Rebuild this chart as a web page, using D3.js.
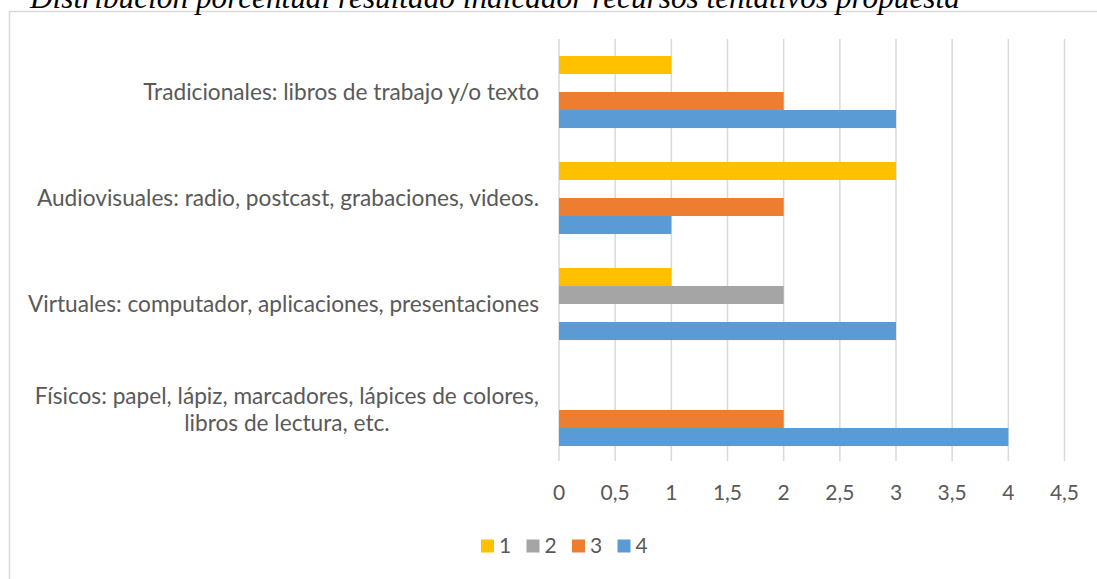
<!DOCTYPE html>
<html>
<head>
<meta charset="utf-8">
<script src="https://cdn.jsdelivr.net/npm/d3@7"></script>
<style>
  body { margin: 0; background: #fff; overflow: hidden; }
  text { font-family: Lato, "Open Sans", sans-serif; }
</style>
</head>
<body>
<div class="chart"></div>
<script>
var width = 1097, height = 579;

// categories, top to bottom
var categorias = [
  ["Tradicionales: libros de trabajo y/o texto"],
  ["Audiovisuales: radio, postcast, grabaciones, videos."],
  ["Virtuales: computador, aplicaciones, presentaciones"],
  ["Físicos: papel, lápiz, marcadores, lápices de colores,", "libros de lectura, etc."]
];
var series = ["1", "2", "3", "4"];
var serie1 = [1, 3, 1, 0];
var serie2 = [0, 0, 2, 0];
var serie3 = [2, 2, 0, 2];
var serie4 = [3, 1, 3, 4];
var ticks = [0, 0.5, 1, 1.5, 2, 2.5, 3, 3.5, 4, 4.5];
var colores = ["#FFC000", "#A5A5A5", "#ED7D31", "#5B9BD5"];
var titulo = "Distribución porcentual resultado indicador recursos tentativos propuesta";

var valores = [serie1, serie2, serie3, serie4];

var svg = d3.select(".chart").append("svg").attr("width", width).attr("height", height);

// chart frame (cut off on the right and bottom)
svg.append("rect")
  .attr("x", 9.5).attr("y", 11.5)
  .attr("width", 1200).attr("height", 700)
  .style("fill", "none").style("stroke", "#d9d9d9").style("stroke-width", 1.5);

// title, clipped at the top of the page
var t = svg.append("text")
  .attr("x", 30).attr("y", 8)
  .style("font-family", "'Liberation Serif', 'DejaVu Serif', serif")
  .style("font-style", "italic")
  .style("font-size", "26px")
  .style("fill", "#000")
  .text(titulo);
var tw = t.node().getComputedTextLength();
t.style("font-size", (26 * 930 / tw) + "px");

var x = d3.scaleLinear().domain([0, 4.5]).range([559, 1064.5]);
var y = d3.scaleBand().domain(d3.range(categorias.length)).range([39, 463])
  .paddingInner(0.32).paddingOuter(0.16);
var ySub = d3.scaleBand().domain(series).range([0, y.bandwidth()]);

var color = d3.scaleOrdinal().domain(series).range(colores);

// grid lines
svg.append("g").selectAll("line")
  .data(ticks)
  .enter().append("line")
  .attr("x1", function(d) { return x(d); })
  .attr("x2", function(d) { return x(d); })
  .attr("y1", 39).attr("y2", 461)
  .style("stroke", "#d9d9d9").style("stroke-width", 1.5);

// tick labels
svg.append("g").selectAll("text")
  .data(ticks)
  .enter().append("text")
  .attr("x", function(d) { return x(d); })
  .attr("y", 493)
  .attr("dy", "0.35em")
  .attr("text-anchor", "middle")
  .style("font-size", "21px")
  .style("fill", "#595959")
  .text(function(d) { return String(d).replace(".", ","); });

// bars
var grupos = svg.append("g").selectAll("g")
  .data(categorias)
  .enter().append("g")
  .attr("transform", function(d, i) { return "translate(0," + y(i) + ")"; });

grupos.selectAll("rect")
  .data(function(d, i) {
    return series.map(function(s, j) { return { serie: s, valor: valores[j][i] }; });
  })
  .enter().append("rect")
  .filter(function(d) { return d.valor > 0; })
  .attr("x", x(0))
  .attr("y", function(d) { return ySub(d.serie); })
  .attr("width", function(d) { return x(d.valor) - x(0); })
  .attr("height", ySub.bandwidth())
  .style("fill", function(d) { return color(d.serie); });

// category labels: size them so the first label is ~396px wide like the source
var probe = svg.append("text").style("font-size", "20px").text(categorias[0][0]);
var labelSize = 20 * 396 / probe.node().getComputedTextLength();
probe.remove();

var lineH = 27;
svg.append("g").selectAll("text")
  .data(categorias)
  .enter().append("text")
  .style("font-size", labelSize + "px")
  .style("fill", "#595959")
  .each(function(lines, i) {
    var el = d3.select(this);
    var cy = y(i) + y.bandwidth() / 2;
    var y0 = cy - (lines.length - 1) * lineH / 2;
    var spans = lines.map(function(l, k) {
      return el.append("tspan").attr("y", y0 + k * lineH).attr("dy", "0.35em").text(l);
    });
    var maxW = d3.max(spans, function(s) { return s.node().getComputedTextLength(); });
    spans.forEach(function(s) {
      s.attr("x", 539 - maxW / 2).attr("text-anchor", "middle");
    });
  });

// legend
var legend = svg.append("g").attr("transform", "translate(481,546)");
var item = legend.selectAll("g")
  .data(series)
  .enter().append("g")
  .attr("transform", function(d, i) { return "translate(" + (i * 45.5) + ",0)"; });
item.append("rect")
  .attr("x", 0).attr("y", -6.5)
  .attr("width", 13).attr("height", 13)
  .style("fill", function(d) { return color(d); });
item.append("text")
  .attr("x", 18).attr("y", 0).attr("dy", "0.35em")
  .style("font-size", "21px")
  .style("fill", "#595959")
  .text(function(d) { return d; });
</script>
</body>
</html>
